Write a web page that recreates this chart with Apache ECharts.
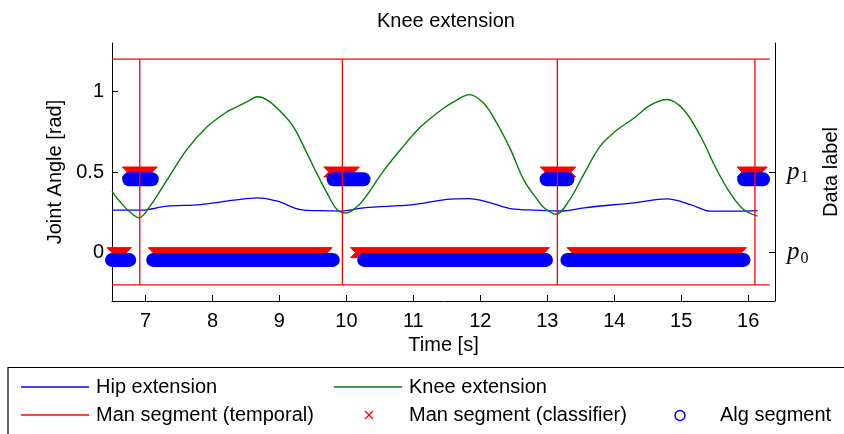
<!DOCTYPE html>
<html>
<head>
<meta charset="utf-8">
<script src="https://cdn.jsdelivr.net/npm/echarts@6/dist/echarts.min.js"></script>
<style>
  html, body { margin: 0; padding: 0; background: #ffffff; }
  #chart { width: 844px; height: 434px; }
</style>
</head>
<body>
<div id="chart"></div>
<script>
// Hip extension angle [rad] over time [s]
const hipTime  = [6.5, 6.95, 7.1, 7.32, 7.82, 8.32, 8.67, 8.97, 9.31, 9.6, 9.91, 10.26, 11.0, 11.5, 11.83, 12.15, 12.45, 12.85, 13.2, 13.55, 14.29, 14.79, 15.14, 15.44, 15.83, 16.14];
const hipAngle = [0.263, 0.263, 0.272, 0.288, 0.298, 0.325, 0.34, 0.319, 0.267, 0.26, 0.257, 0.278, 0.298, 0.33, 0.335, 0.309, 0.273, 0.263, 0.258, 0.278, 0.309, 0.333, 0.298, 0.257, 0.257, 0.26];

// Knee extension angle [rad] over time [s]
const kneeTime  = [6.5, 6.63, 6.78, 6.9, 7.07, 7.32, 7.62, 7.92, 8.22, 8.37, 8.52, 8.67, 8.82, 9.02, 9.21, 9.41, 9.56, 9.71, 9.86, 9.99, 10.14, 10.26, 10.56, 10.81, 11.11, 11.45, 11.65, 11.83, 12.05, 12.25, 12.45, 12.65, 12.85, 12.95, 13.13, 13.33, 13.55, 13.79, 14.04, 14.29, 14.54, 14.79, 15.04, 15.29, 15.53, 15.73, 15.93, 16.14];
const kneeAngle = [0.38, 0.31, 0.247, 0.216, 0.29, 0.45, 0.64, 0.78, 0.874, 0.905, 0.936, 0.967, 0.946, 0.874, 0.78, 0.617, 0.49, 0.37, 0.267, 0.245, 0.278, 0.33, 0.51, 0.64, 0.78, 0.895, 0.946, 0.98, 0.926, 0.80, 0.64, 0.45, 0.33, 0.278, 0.238, 0.325, 0.49, 0.66, 0.76, 0.833, 0.915, 0.95, 0.885, 0.72, 0.514, 0.37, 0.267, 0.226];

// Axis ticks
const timeTicks  = [7, 8, 9, 10, 11, 12, 13, 14, 15, 16];
const angleTicks = [0, 0.5, 1];
const labelLevels = [0, 0.5];
const labelSubs   = ['0', '1'];

// Manual segmentation (temporal): cycle boundaries and the band they span
const temporalBounds = [6.915, 9.94, 13.15, 16.10];
const temporalBand   = [-0.2, 1.2];
const temporalSpan   = [6.5, 16.32];

// Manual segmentation (classifier), per data label: [start, end]
const classifierP1 = [[6.73, 7.10], [9.737, 10.12], [12.97, 13.35], [15.91, 16.21]];
const classifierP0 = [[6.50, 6.716], [7.115, 9.713], [10.136, 12.96], [13.37, 15.90]];

// Algorithm segmentation, per data label: [start, end]
const algP1 = [[6.757, 7.094], [9.81, 10.255], [12.99, 13.30], [15.94, 16.22]];
const algP0 = [[6.50, 6.757], [7.115, 9.797], [10.266, 12.98], [13.30, 15.93]];

const FONT = '"Liberation Sans", Arial, Helvetica, sans-serif';
const SERIF = '"Liberation Serif", "DejaVu Serif", serif';
const RED = '#ff0000', BLUE = '#0000ff', GREEN = '#008000';
const FS = 20;

const pairs = (xs, ys) => xs.map((x, i) => [x, ys[i]]);
const withLevel = (segs, level) => segs.map(s => [s[0], s[1], level]);

// Red frame lines: two horizontal rails plus one vertical per boundary
const temporalLines = [];
temporalBand.forEach(y => temporalLines.push([temporalSpan[0], y, temporalSpan[1], y]));
temporalBounds.forEach(x => temporalLines.push([x, temporalBand[0], x, temporalBand[1]]));

const classifierData = withLevel(classifierP1, labelLevels[1]).concat(withLevel(classifierP0, labelLevels[0]));
const algData = withLevel(algP1, labelLevels[1]).concat(withLevel(algP0, labelLevels[0]));

const ALG_SHIFT = -0.045;   // circles sit just under their label level
const CROSS_HALF = 5;       // half size of the x markers
const CIRCLE_R = 7;         // radius of the circle markers

const chart = echarts.init(document.getElementById('chart'), null, { renderer: 'canvas' });

const axisCommon = {
  axisLine: { show: true, onZero: false, lineStyle: { color: '#000', width: 1 } },
  axisTick: { show: true, inside: true, length: 6, lineStyle: { color: '#000', width: 1 } },
  splitLine: { show: false },
  nameTextStyle: { fontFamily: FONT, fontSize: FS, color: '#000' }
};

const legendText = (x, y, text) => ({
  type: 'text', x: x, y: y,
  style: { text: text, font: FS + 'px ' + FONT, fill: '#000', textVerticalAlign: 'middle' }
});

chart.setOption({
  animation: false,
  backgroundColor: '#ffffff',
  title: {
    text: 'Knee extension',
    left: 372, top: 6,
    textStyle: { fontFamily: FONT, fontSize: FS, fontWeight: 'normal', color: '#000' }
  },
  grid: { left: 112, right: 69, top: 43, bottom: 133, containLabel: false, outerBoundsMode: 'none' },
  xAxis: Object.assign({}, axisCommon, {
    type: 'value', min: 6.5, max: 16.4,
    name: 'Time [s]', nameLocation: 'middle', nameGap: 33,
    axisTick: Object.assign({}, axisCommon.axisTick, { customValues: timeTicks }),
    axisLabel: { customValues: timeTicks, margin: 10, fontFamily: FONT, fontSize: FS, color: '#000' }
  }),
  yAxis: [
    Object.assign({}, axisCommon, {
      type: 'value', min: -0.3, max: 1.3, position: 'left',
      name: 'Joint Angle [rad]', nameLocation: 'middle', nameRotate: 90, nameGap: 40,
      axisTick: Object.assign({}, axisCommon.axisTick, { customValues: angleTicks }),
      axisLabel: { customValues: angleTicks, margin: 8, fontFamily: FONT, fontSize: FS, color: '#000',
        formatter: v => String(v) }
    }),
    Object.assign({}, axisCommon, {
      type: 'value', min: -0.3, max: 1.3, position: 'right',
      name: 'Data label', nameLocation: 'middle', nameRotate: 90, nameGap: 46,
      axisTick: Object.assign({}, axisCommon.axisTick, { customValues: labelLevels }),
      axisLabel: {
        customValues: labelLevels, margin: 12,
        formatter: v => '{p|p}{s|' + labelSubs[labelLevels.indexOf(v)] + '}',
        rich: {
          p: { fontFamily: SERIF, fontStyle: 'italic', fontSize: 25, color: '#000' },
          s: { fontFamily: SERIF, fontSize: 16, color: '#000', padding: [12, 0, 0, 1] }
        }
      }
    })
  ],
  series: [
    {
      name: 'Hip extension', type: 'line', smooth: 0.35, symbol: 'none',
      lineStyle: { color: BLUE, width: 1.3 }, itemStyle: { color: BLUE },
      data: pairs(hipTime, hipAngle), z: 2
    },
    {
      name: 'Knee extension', type: 'line', smooth: 0.35, symbol: 'none',
      lineStyle: { color: GREEN, width: 1.4 }, itemStyle: { color: GREEN },
      data: pairs(kneeTime, kneeAngle), z: 2
    },
    {
      name: 'Man segment (classifier)', type: 'custom', z: 3,
      data: classifierData,
      renderItem: (params, api) => {
        const a = api.coord([api.value(0), api.value(2)]);
        const b = api.coord([api.value(1), api.value(2)]);
        const h = CROSS_HALF, y = a[1];
        return {
          type: 'polygon',
          shape: { points: [[a[0] - h, y - h], [b[0] + h, y - h], [b[0], y], [b[0] + h, y + h], [a[0] - h, y + h], [a[0], y]] },
          style: { fill: RED, stroke: RED, lineWidth: 1 }
        };
      }
    },
    {
      name: 'Alg segment', type: 'custom', z: 4,
      data: algData,
      renderItem: (params, api) => {
        const a = api.coord([api.value(0), api.value(2) + ALG_SHIFT]);
        const b = api.coord([api.value(1), api.value(2) + ALG_SHIFT]);
        const r = CIRCLE_R;
        return {
          type: 'rect',
          shape: { x: a[0] - r, y: a[1] - r, width: b[0] - a[0] + 2 * r, height: 2 * r, r: r },
          style: { fill: BLUE }
        };
      }
    },
    {
      name: 'Man segment (temporal)', type: 'custom', z: 5,
      data: temporalLines,
      renderItem: (params, api) => {
        const p1 = api.coord([api.value(0), api.value(1)]);
        const p2 = api.coord([api.value(2), api.value(3)]);
        return {
          type: 'line',
          shape: { x1: p1[0], y1: p1[1], x2: p2[0], y2: p2[1] },
          style: { stroke: RED, lineWidth: 1.3 }
        };
      }
    }
  ],
  graphic: [
    { type: 'rect', shape: { x: 8, y: 367.5, width: 850, height: 80 },
      style: { fill: '#fff', stroke: '#000', lineWidth: 1.2 }, silent: true },
    { type: 'line', shape: { x1: 21, y1: 387, x2: 89, y2: 387 }, style: { stroke: BLUE, lineWidth: 1.3 } },
    legendText(96, 387, 'Hip extension'),
    { type: 'line', shape: { x1: 334, y1: 387, x2: 402, y2: 387 }, style: { stroke: GREEN, lineWidth: 1.3 } },
    legendText(409, 387, 'Knee extension'),
    { type: 'line', shape: { x1: 21, y1: 415, x2: 89, y2: 415 }, style: { stroke: RED, lineWidth: 1.3 } },
    legendText(96, 415, 'Man segment (temporal)'),
    { type: 'line', shape: { x1: 365, y1: 411, x2: 373, y2: 419 }, style: { stroke: RED, lineWidth: 1.3 } },
    { type: 'line', shape: { x1: 373, y1: 411, x2: 365, y2: 419 }, style: { stroke: RED, lineWidth: 1.3 } },
    legendText(409, 415, 'Man segment (classifier)'),
    { type: 'circle', shape: { cx: 680, cy: 415.5, r: 5 }, style: { fill: 'none', stroke: BLUE, lineWidth: 1.5 } },
    legendText(720, 415, 'Alg segment')
  ]
});
</script>
</body>
</html>
